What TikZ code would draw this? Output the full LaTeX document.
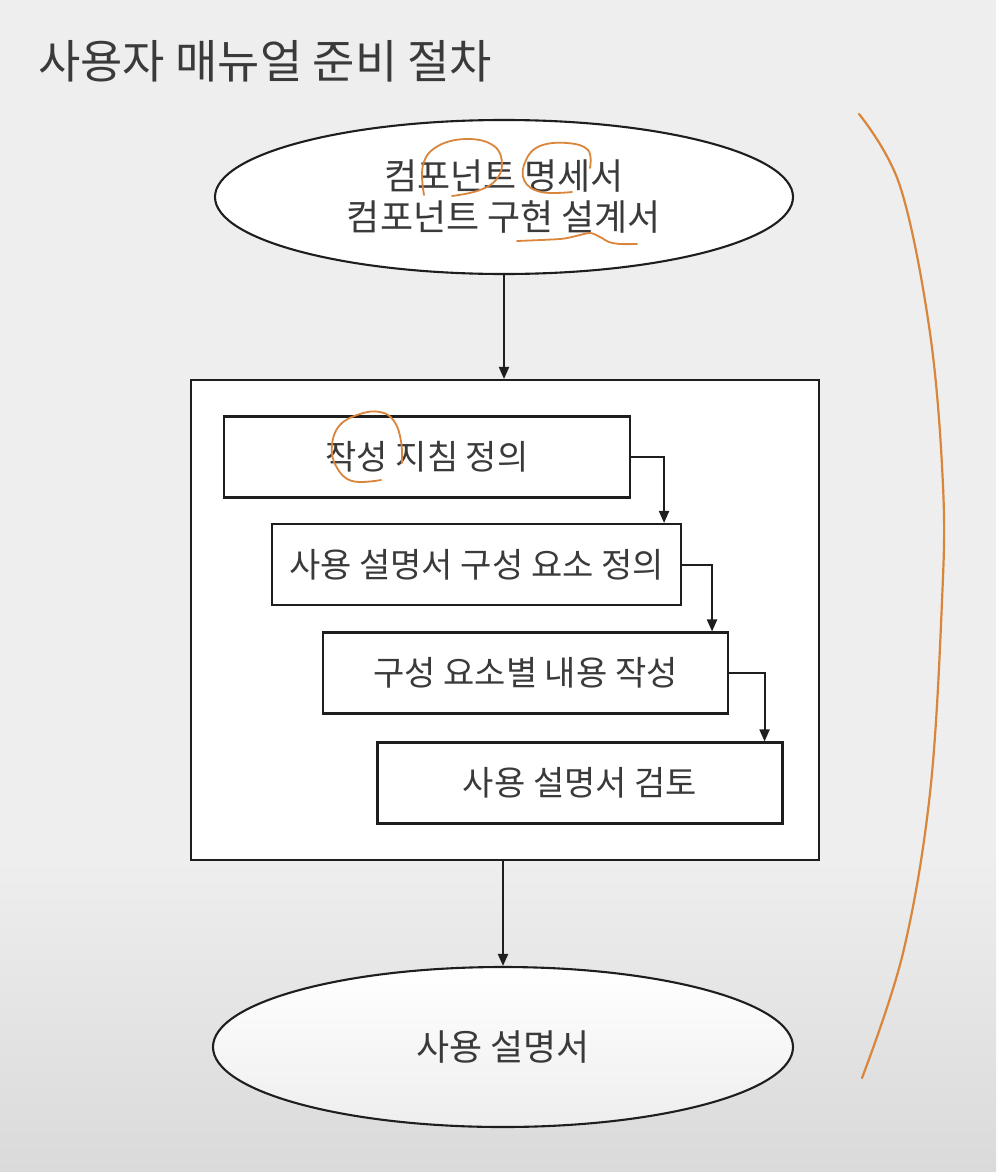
\documentclass[tikz,border=0pt]{standalone}
\usepackage{fontspec}
\newfontfamily\kr{Noto Sans CJK KR}
\usetikzlibrary{shapes.geometric,arrows.meta}
\definecolor{bgtop}{HTML}{EEEEEE}
\definecolor{bgbot}{HTML}{DADADA}
\definecolor{txt}{HTML}{3A3A3A}
\definecolor{ink}{HTML}{1E1E1E}
\definecolor{pen}{HTML}{D9853B}
\begin{document}
\begin{tikzpicture}[x=1pt,y=-1pt,
  stepbox/.style={draw=ink,line width=2.1pt,fill=white,rectangle,minimum height=81pt,inner sep=0pt,
    text=txt,font=\kr\fontsize{34}{41}\selectfont},
  oval/.style={draw=ink,line width=2.1pt,ellipse,inner sep=0pt,align=center,
    text=txt,font=\kr\fontsize{36}{41}\selectfont},
  flow/.style={draw=ink,line width=2pt,-{Triangle[length=12pt,width=10pt]}},
  anno/.style={draw=pen,line width=2.2pt,line cap=round,line join=round}]
% background
\useasboundingbox (0,0) rectangle (996,1172);
\fill[bgtop] (0,0) rectangle (996,860);
\shade[top color=bgtop,bottom color=bgbot] (0,859) rectangle (996,1172);
% title
\node[anchor=west,inner sep=0pt,text=txt,font=\kr\fontsize{46}{52}\selectfont] (title) at (38,61) {사용자 매뉴얼 준비 절차};
% top ellipse
\node[oval,fill=white,minimum width=578pt,minimum height=154pt] (e1) at (504,197) {컴포넌트 명세서\\컴포넌트 구현 설계서};
% outer box
\node[draw=ink,line width=2.1pt,fill=white,rectangle,minimum width=628pt,minimum height=480pt,inner sep=0pt] (outer) at (505,620) {};
% steps
\node[stepbox,minimum width=406pt] (b1) at (427,457) {작성 지침 정의};
\node[stepbox,minimum width=409pt] (b2) at (476.5,564.5) {사용 설명서 구성 요소 정의};
\node[stepbox,minimum width=405pt] (b3) at (525.5,673) {구성 요소별 내용 작성};
\node[stepbox,minimum width=405pt] (b4) at (580,783) {사용 설명서 검토};
% bottom ellipse
\node[oval,top color=white,bottom color=bgtop,minimum width=580pt,minimum height=160pt] (e2) at (503,1047) {사용 설명서};
% connectors
\draw[flow] (e1.south) -- (e1.south |- outer.north);
\draw[flow] (b1.east) -| ([xshift=-18pt]b2.north east);
\draw[flow] (b2.east) -| ([xshift=-17pt]b3.north east);
\draw[flow] (b3.east) -| ([xshift=-19pt]b4.north east);
\draw[flow] (e2.north |- outer.south) -- (e2.north);
% hand-drawn annotations
\draw[anno] plot[smooth,tension=0.6] coordinates {(859,114) (900,186) (930,333) (943,486) (942,601) (930,793) (903,953) (862,1078)};
\draw[anno,line width=1.8pt] plot[smooth,tension=0.7] coordinates {(424,195) (423,165) (438,146) (468,139) (494,146) (502,164) (495,181) (477,191) (452,196)};
\draw[anno,line width=1.8pt] plot[smooth,tension=0.7] coordinates {(590,168) (588,150) (567,143) (540,146) (526,160) (524,180) (541,192) (572,192)};
\draw[anno,line width=1.8pt] plot[smooth,tension=0.5] coordinates {(517,241) (560,239) (576,236) (590,233) (600,237) (609,242) (620,244) (637,244)};
\draw[anno,line width=1.8pt] plot[smooth,tension=0.7] coordinates {(381,480) (352,481) (336,466) (332,445) (340,425) (360,414) (380,412) (394,421) (401,441) (402,463)};
\end{tikzpicture}
\end{document}
